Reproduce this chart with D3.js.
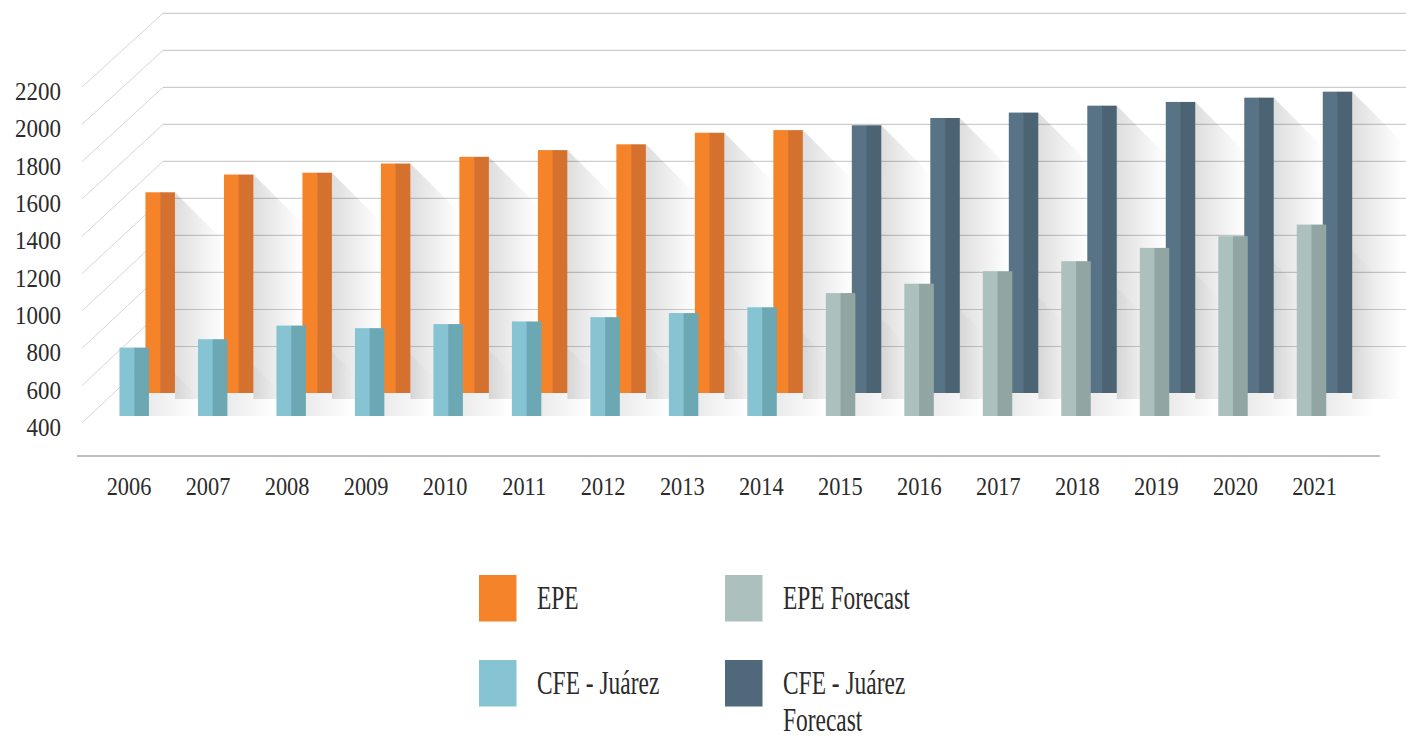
<!DOCTYPE html>
<html>
<head>
<meta charset="utf-8">
<script src="https://cdn.jsdelivr.net/npm/d3@7"></script>
<style>
  html, body { margin: 0; padding: 0; background: #ffffff; }
  svg { display: block; }
  text { font-family: "Liberation Serif", "DejaVu Serif", serif; fill: #2b2b2b; }
</style>
</head>
<body>
<svg id="chart" width="1406" height="739"></svg>
<script>
// ---- data (MW) ----
const years = ["2006","2007","2008","2009","2010","2011","2012","2013","2014",
               "2015","2016","2017","2018","2019","2020","2021"];
const actualYears   = years.slice(0, 9);
const forecastYears = years.slice(9);

const epe               = [1636, 1731, 1741, 1790, 1826, 1862, 1893, 1955, 1969];
const cfeJuarez         = [804, 849, 922, 908, 930, 944, 967, 989, 1020];
const cfeJuarezForecast = [1995, 2034, 2063, 2100, 2120, 2143, 2175];
const epeForecast       = [1096, 1146, 1213, 1267, 1338, 1401, 1463];

const yTicks = [400, 600, 800, 1000, 1200, 1400, 1600, 1800, 2000, 2200];

const seriesColors = {
  "EPE":                   ["#f5832a", "#d4712f"],
  "EPE Forecast":          ["#acc1be", "#91a6a3"],
  "CFE - Juárez":          ["#86c4d3", "#6ba8b4"],
  "CFE - Juárez Forecast": ["#587385", "#4b6373"]
};

// back row: tall bars; front row: short bars
const backRow = actualYears.map((y, i) => ({ year: y, value: epe[i], series: "EPE" }))
  .concat(forecastYears.map((y, i) => ({ year: y, value: cfeJuarezForecast[i], series: "CFE - Juárez Forecast" })));
const frontRow = actualYears.map((y, i) => ({ year: y, value: cfeJuarez[i], series: "CFE - Juárez" }))
  .concat(forecastYears.map((y, i) => ({ year: y, value: epeForecast[i], series: "EPE Forecast" })));

// ---- layout ----
const svg = d3.select("#chart");
const BAR_W = 29.5, DEPTH_DX = 26, SHADOW = 50;
const BACK_FLOOR = 393, FRONT_FLOOR = 416;
const WALL_LEFT = 163, WALL_FRONT_X = 82, WALL_RIGHT = 1406;

const xBar  = d3.scalePoint().domain(years).range([134.2, 1311.5]);
const xTick = d3.scalePoint().domain(years).range([128.5, 1314]);
const yFront = d3.scaleLinear().domain([400, 2200]).range([423, 87]);
const yBack  = d3.scaleLinear().domain([400, 2200]).range([346.5, 13.3]);

// soft long-shadow gradients
const defs = svg.append("defs");
function addGrad(id, a) {
  const g = defs.append("linearGradient").attr("id", id)
    .attr("x1", "0").attr("y1", "0").attr("x2", "1").attr("y2", "0");
  g.append("stop").attr("offset", "0").attr("stop-color", "#000").attr("stop-opacity", a);
  g.append("stop").attr("offset", "0.6").attr("stop-color", "#000").attr("stop-opacity", a * 0.38);
  g.append("stop").attr("offset", "1").attr("stop-color", "#000").attr("stop-opacity", 0);
}
addGrad("shadowBack", 0.13);
addGrad("shadowFront", 0.08);

// ---- perspective grid ----
const grid = svg.append("g");
grid.selectAll("line.wall").data(yTicks).join("line")
  .attr("x1", WALL_LEFT).attr("x2", WALL_RIGHT)
  .attr("y1", d => yBack(d)).attr("y2", d => yBack(d))
  .attr("stroke", "#cdcdcd").attr("stroke-width", 1.2);
grid.selectAll("line.diag").data(yTicks).join("line")
  .attr("x1", WALL_FRONT_X).attr("y1", d => yFront(d))
  .attr("x2", WALL_LEFT).attr("y2", d => yBack(d))
  .attr("stroke", "#d6d6d6").attr("stroke-width", 1);

// ---- shadows ----
function shadowPath(x2, top, floor) {
  return `M${x2},${top} L${x2 + SHADOW},${top + SHADOW} L${x2 + SHADOW},${floor} L${x2},${floor} Z`;
}
svg.append("g").selectAll("path").data(backRow).join("path")
  .attr("d", d => shadowPath(xBar(d.year) + DEPTH_DX + BAR_W / 2, yFront(d.value), BACK_FLOOR + 6))
  .attr("fill", "url(#shadowBack)");
svg.append("g").selectAll("path").data(frontRow).join("path")
  .attr("d", d => shadowPath(xBar(d.year) + BAR_W / 2, yFront(d.value), FRONT_FLOOR))
  .attr("fill", "url(#shadowFront)");

// ---- bars (two-tone halves) ----
function drawBars(rows, dx, floor) {
  const g = svg.append("g").selectAll("g").data(rows).join("g");
  g.append("rect")
    .attr("x", d => xBar(d.year) + dx - BAR_W / 2)
    .attr("y", d => yFront(d.value))
    .attr("width", BAR_W / 2 + 0.5)
    .attr("height", d => floor - yFront(d.value))
    .attr("fill", d => seriesColors[d.series][0]);
  g.append("rect")
    .attr("x", d => xBar(d.year) + dx)
    .attr("y", d => yFront(d.value))
    .attr("width", BAR_W / 2)
    .attr("height", d => floor - yFront(d.value))
    .attr("fill", d => seriesColors[d.series][1]);
}
drawBars(backRow, DEPTH_DX, BACK_FLOOR);
drawBars(frontRow, 0, FRONT_FLOOR);

// ---- axes ----
svg.append("line")
  .attr("x1", 77).attr("x2", 1380).attr("y1", 456).attr("y2", 456)
  .attr("stroke", "#a9a9a9").attr("stroke-width", 1.5);

const xAxis = svg.append("g").attr("transform", "translate(0,456)")
  .call(d3.axisBottom(xTick).tickSize(0).tickPadding(0));
xAxis.select(".domain").remove();
xAxis.selectAll("text")
  .attr("y", 39).attr("dy", null)
  .attr("transform", "scale(0.86,1)")
  .style("font-family", "'Liberation Serif', serif")
  .style("font-size", "26px").attr("fill", "#2b2b2b");

const yAxis = svg.append("g").attr("transform", "translate(61,0)")
  .call(d3.axisLeft(yFront).tickValues(yTicks).tickFormat(d3.format("d")).tickSize(0).tickPadding(0));
yAxis.select(".domain").remove();
yAxis.selectAll(".tick text")
  .attr("x", 0).attr("dy", null).attr("y", 12.5)
  .attr("transform", "scale(0.92,1)")
  .style("font-family", "'Liberation Serif', serif")
  .style("font-size", "25px").attr("fill", "#2b2b2b");

// ---- legend ----
const legendPos = [
  { name: "EPE",                   x: 479, y: 575, lines: ["EPE"] },
  { name: "EPE Forecast",          x: 725, y: 575, lines: ["EPE Forecast"] },
  { name: "CFE - Juárez",          x: 479, y: 660, lines: ["CFE - Juárez"] },
  { name: "CFE - Juárez Forecast", x: 725, y: 660, lines: ["CFE - Juárez", "Forecast"] }
];
const lg = svg.append("g").selectAll("g").data(legendPos).join("g")
  .attr("transform", d => `translate(${d.x},${d.y})`);
lg.append("rect").attr("width", 37.5).attr("height", 46.5)
  .attr("fill", d => d.name === "CFE - Juárez Forecast" ? "#4f687a" : seriesColors[d.name][0]);
lg.each(function (d) {
  d3.select(this).selectAll("text").data(d.lines).join("text")
    .attr("transform", (l, i) => `translate(58,${34 + i * 37}) scale(0.71,1)`)
    .style("font-size", "33px")
    .text(l => l);
});
</script>
</body>
</html>
